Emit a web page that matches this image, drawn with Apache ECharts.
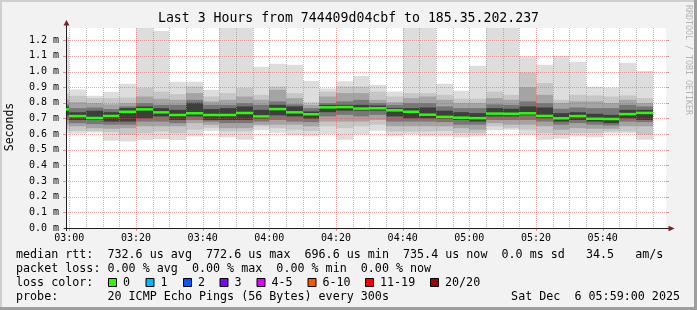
<!DOCTYPE html>
<html><head><meta charset="utf-8">
<script src="https://cdn.jsdelivr.net/npm/echarts@6/dist/echarts.min.js"></script>
<style>html,body{margin:0;padding:0;background:#f2f2f2}#c{width:697px;height:310px}</style>
</head><body><div id="c"></div>
<script>
// ---------------- data (values in ms) ----------------
const barStart = ['02:55','03:00','03:05','03:10','03:15','03:20','03:25','03:30','03:35','03:40','03:45','03:50',
  '03:55','04:00','04:05','04:10','04:15','04:20','04:25','04:30','04:35','04:40','04:45','04:50',
  '04:55','05:00','05:05','05:10','05:15','05:20','05:25','05:30','05:35','05:40','05:45','05:50'];
const maxV   = [1.22,0.885,0.845,0.870,0.921,1.30,1.259,0.934,0.934,0.883,1.30,1.30,1.030,1.049,1.043,0.940,0.892,0.938,0.972,0.915,0.872,1.30,1.30,0.921,0.877,1.037,1.30,1.30,1.096,1.043,1.100,1.062,0.902,0.897,1.056,1.004];
const l2Hi   = [0.86,0.845,0.830,0.830,0.834,0.894,0.872,0.855,0.904,0.840,0.862,0.894,0.851,0.904,0.862,0.804,0.872,0.904,0.904,0.872,0.840,0.862,0.862,0.851,0.826,0.826,0.872,0.851,0.994,0.926,0.819,0.851,0.847,0.840,0.847,0.830];
const l3Hi   = [0.82,0.804,0.798,0.790,0.798,0.840,0.826,0.819,0.862,0.809,0.819,0.840,0.819,0.883,0.830,0.787,0.840,0.862,0.862,0.819,0.804,0.830,0.840,0.819,0.798,0.798,0.830,0.819,0.900,0.851,0.798,0.809,0.809,0.798,0.819,0.798];
const l4Hi   = [0.79,0.766,0.770,0.760,0.777,0.798,0.787,0.787,0.819,0.787,0.787,0.798,0.787,0.809,0.790,0.766,0.798,0.809,0.819,0.798,0.787,0.798,0.798,0.777,0.766,0.766,0.790,0.787,0.809,0.798,0.762,0.770,0.766,0.766,0.787,0.777];
const coreHi = [0.775,0.740,0.750,0.740,0.766,0.777,0.766,0.755,0.800,0.760,0.766,0.777,0.755,0.787,0.777,0.745,0.787,0.787,0.787,0.783,0.766,0.766,0.770,0.750,0.740,0.734,0.766,0.762,0.777,0.770,0.734,0.740,0.730,0.723,0.755,0.755];
const median = [0.758,0.715,0.703,0.716,0.743,0.758,0.739,0.722,0.733,0.722,0.722,0.735,0.713,0.760,0.739,0.727,0.771,0.7726,0.763,0.765,0.752,0.743,0.724,0.710,0.705,0.702,0.731,0.730,0.733,0.716,0.701,0.715,0.698,0.6966,0.728,0.7354];
const coreLo = [0.72,0.690,0.690,0.680,0.680,0.700,0.713,0.690,0.713,0.690,0.690,0.690,0.698,0.720,0.713,0.698,0.740,0.750,0.750,0.750,0.713,0.700,0.700,0.698,0.690,0.680,0.713,0.713,0.720,0.700,0.680,0.690,0.680,0.670,0.700,0.690];
const l4Lo   = [0.69,0.670,0.664,0.660,0.660,0.680,0.680,0.670,0.690,0.680,0.670,0.670,0.680,0.690,0.680,0.677,0.713,0.723,0.713,0.723,0.680,0.680,0.680,0.677,0.660,0.660,0.690,0.690,0.690,0.680,0.660,0.670,0.660,0.655,0.680,0.677];
const l3Lo   = [0.66,0.650,0.638,0.634,0.638,0.650,0.650,0.650,0.670,0.660,0.638,0.638,0.660,0.660,0.660,0.650,0.680,0.680,0.680,0.690,0.650,0.650,0.650,0.650,0.638,0.628,0.670,0.660,0.660,0.650,0.628,0.638,0.634,0.634,0.650,0.650];
const l2Lo   = [0.63,0.620,0.620,0.613,0.596,0.606,0.617,0.606,0.628,0.640,0.617,0.617,0.650,0.638,0.628,0.620,0.650,0.638,0.650,0.660,0.617,0.617,0.617,0.620,0.606,0.606,0.650,0.638,0.628,0.606,0.596,0.606,0.606,0.617,0.617,0.596];
const minV   = [0.608,0.603,0.610,0.558,0.552,0.563,0.568,0.563,0.585,0.621,0.580,0.564,0.625,0.608,0.592,0.585,0.600,0.564,0.598,0.622,0.585,0.600,0.585,0.585,0.580,0.585,0.624,0.628,0.596,0.564,0.571,0.585,0.580,0.604,0.606,0.564];

const stepMin = 5;
const windowStart = '02:59', windowEnd = '05:59';
const yMax = 1.278;
const yTickVals = [0,0.1,0.2,0.3,0.4,0.5,0.6,0.7,0.8,0.9,1.0,1.1,1.2];
const xTickLabels = ['03:00','03:20','03:40','04:00','04:20','04:40','05:00','05:20','05:40'];

const titleText = 'Last 3 Hours from 744409d04cbf to 185.35.202.237';
const legendRtt  = 'median rtt:  732.6 us avg  772.6 us max  696.6 us min  735.4 us now  0.0 ms sd   34.5   am/s';
const legendLoss = 'packet loss: 0.00 % avg  0.00 % max  0.00 % min  0.00 % now';
const lossTitle = 'loss color:';
const lossLabels = ['0','1','2','3','4-5','6-10','11-19','20/20'];
const lossColors = ['#26ff00','#00b8ff','#0059ff','#7e00ff','#dd00ff','#ff5500','#ff0000','#a10000'];
const probeText = 'probe:       20 ICMP Echo Pings (56 Bytes) every 300s';
const dateText = 'Sat Dec  6 05:59:00 2025';
const vertCredit = 'RRDTOOL / TOBI OETIKER';

// ---------------- helpers / styles ----------------
const MONO = "'DejaVu Sans Mono', monospace";
function toMin(s){ const p = s.split(':'); return (+p[0])*60 + (+p[1]); }
function fmtHM(m){ const h = Math.floor(m/60), mm = Math.round(m%60); return String(h).padStart(2,'0')+':'+String(mm).padStart(2,'0'); }
const tMin = toMin(windowStart), tMax = toMin(windowEnd);
const majorTimes = xTickLabels.map(toMin);
const MGRID = 'rgba(222,79,79,0.5)', GRID = 'rgba(143,143,143,0.6)', MTICK = 'rgba(222,79,79,0.6)';
const layerColors = ['#dddddd','#c6c6c6','#a4a4a4','#777777','#3e3e3e'];
const layers = [[minV,maxV],[l2Lo,l2Hi],[l3Lo,l3Hi],[l4Lo,l4Hi],[coreLo,coreHi]];

function clipR(r, cs){ return echarts.graphic.clipRectByRect(r, {x:cs.x,y:cs.y,width:cs.width,height:cs.height}); }

function renderSmoke(params, api){
  const i = params.dataIndex, cs = params.coordSys;
  const t0 = toMin(barStart[i]), t1 = t0 + stepMin;
  const children = [];
  layers.forEach((pair, k) => {
    const pTop = api.coord([t0, pair[1][i]]), pBot = api.coord([t1, pair[0][i]]);
    const x0 = Math.round(pTop[0]), x1 = Math.round(pBot[0]);
    const r = clipR({x:x0, y:pTop[1], width:x1-x0, height:pBot[1]-pTop[1]}, cs);
    if (r) children.push({type:'rect', shape:r, style:{fill:layerColors[k]}});
  });
  return {type:'group', children};
}
function renderMedian(params, api){
  const i = params.dataIndex, cs = params.coordSys;
  const t0 = toMin(barStart[i]), t1 = t0 + stepMin;
  const p0 = api.coord([t0, median[i]]), p1 = api.coord([t1, median[i]]);
  const x0 = Math.round(p0[0]), x1 = Math.round(p1[0]);
  const r = clipR({x:x0, y:p0[1]-1.25, width:x1-x0, height:2.5}, cs);
  return r ? {type:'rect', shape:r, style:{fill:lossColors[0]}} : null;
}
function renderFrame(params, api){
  const cs = params.coordSys;
  const L = cs.x, R = cs.x + cs.width, T = cs.y, B = cs.y + cs.height;
  const px = v => Math.round(v) + 0.5;
  const ch = [];
  const line = (x1,y1,x2,y2,col,dash) => ch.push({type:'line', shape:{x1,y1,x2,y2},
      style:{stroke:col, lineWidth:1, lineDash: dash ? [1,1] : null}});
  for (let t = Math.ceil(tMin/stepMin)*stepMin; t < tMax; t += stepMin){
    if (majorTimes.indexOf(t) >= 0) continue;
    const x = px(api.coord([t,0])[0]);
    if (x <= L+1 || x >= R) continue;
    line(x, T, x, B, GRID, true);
  }
  majorTimes.forEach(t => {
    const x = px(api.coord([t,0])[0]);
    line(x, T, x, B, MGRID, true);
    line(x, B, x, B+3, MTICK, false);
  });
  yTickVals.forEach(v => {
    const y = px(api.coord([tMin, v])[1]);
    if (v > 0) line(L, y, R, y, MGRID, true);
    line(L-3, y, L, y, MTICK, false);
    line(R, y, R+3, y, MTICK, false);
  });
  const yb = px(B), xl = px(L);
  line(L-2, yb, R+3, yb, '#1f1f1f', false);
  line(xl, B+3, xl, T-3, '#1f1f1f', false);
  ch.push({type:'polygon', shape:{points:[[R+2.5,yb-2.8],[R+8.7,yb],[R+2.5,yb+2.8]]}, style:{fill:'#801f1f'}});
  ch.push({type:'polygon', shape:{points:[[xl-3,T-2.5],[xl,T-8],[xl+3,T-2.5]]}, style:{fill:'#801f1f'}});
  return {type:'group', children:ch};
}

// ---------------- graphic (texts, legend, border) ----------------
const legendBoxX = [108, 145.5, 183, 219.5, 256.5, 307.5, 365, 430];
const graphics = [
  {type:'rect', shape:{x:0,y:0,width:697,height:2}, style:{fill:'#cfcfcf'}},
  {type:'rect', shape:{x:0,y:0,width:2,height:310}, style:{fill:'#cfcfcf'}},
  {type:'rect', shape:{x:0,y:307,width:697,height:3}, style:{fill:'#9e9e9e'}},
  {type:'rect', shape:{x:694,y:0,width:3,height:310}, style:{fill:'#9e9e9e'}},
  {type:'text', x:348.5, y:19, style:{text:titleText, font:'13.2px '+MONO, fill:'#000', align:'center', verticalAlign:'middle'}},
  {type:'text', x:10, y:127, rotation:Math.PI/2, style:{text:'Seconds', font:'11.5px '+MONO, fill:'#000', align:'center', verticalAlign:'middle'}},
  {type:'text', x:688.5, y:60, rotation:-Math.PI/2, style:{text:vertCredit, font:'8.3px '+MONO, fill:'#b4b4b4', align:'center', verticalAlign:'middle'}},
  {type:'text', x:16, y:254.5, style:{text:legendRtt, font:'11.7px '+MONO, fill:'#000', verticalAlign:'middle'}},
  {type:'text', x:16, y:268.5, style:{text:legendLoss, font:'11.7px '+MONO, fill:'#000', verticalAlign:'middle'}},
  {type:'text', x:16, y:282.5, style:{text:lossTitle, font:'11.7px '+MONO, fill:'#000', verticalAlign:'middle'}},
  {type:'text', x:16, y:296.5, style:{text:probeText, font:'11.7px '+MONO, fill:'#000', verticalAlign:'middle'}},
  {type:'text', x:680, y:296.5, style:{text:dateText, font:'11.7px '+MONO, fill:'#000', align:'right', verticalAlign:'middle'}}
];
lossLabels.forEach((lab, k) => {
  graphics.push({type:'rect', shape:{x:legendBoxX[k]+0.5, y:278.5, width:8, height:8}, style:{fill:lossColors[k], stroke:'#000', lineWidth:1}});
  graphics.push({type:'text', x:legendBoxX[k]+15, y:282.5, style:{text:lab, font:'11.7px '+MONO, fill:'#000', verticalAlign:'middle'}});
});

const chart = echarts.init(document.getElementById('c'), null, {renderer:'canvas', width:697, height:310});
chart.setOption({
  animation:false,
  backgroundColor:'#f2f2f2',
  grid:{left:66, top:28, width:600, height:200, show:true, backgroundColor:'#ffffff', borderWidth:0},
  xAxis:{type:'value', min:tMin, max:tMax,
    axisLine:{show:false}, axisTick:{show:false}, splitLine:{show:false},
    axisLabel:{customValues:majorTimes, formatter:v=>fmtHM(v), fontFamily:MONO, fontSize:10, color:'#000', margin:5}},
  yAxis:{type:'value', min:0, max:yMax,
    axisLine:{show:false}, axisTick:{show:false}, splitLine:{show:false},
    axisLabel:{customValues:yTickVals, formatter:v=>v.toFixed(1)+' m', fontFamily:MONO, fontSize:10, color:'#000', margin:7}},
  series:[
    {type:'custom', name:'smoke', z:2, renderItem:renderSmoke, encode:{x:0,y:1},
     data: barStart.map((s,i)=>[toMin(s), median[i]])},
    {type:'custom', name:'grid', z:3, renderItem:renderFrame, encode:{x:0,y:1}, data:[[tMin,0]], silent:true},
    {type:'custom', name:'median', z:4, renderItem:renderMedian, encode:{x:0,y:1},
     data: barStart.map((s,i)=>[toMin(s), median[i]])}
  ],
  graphic: graphics
});
</script>
</body></html>
